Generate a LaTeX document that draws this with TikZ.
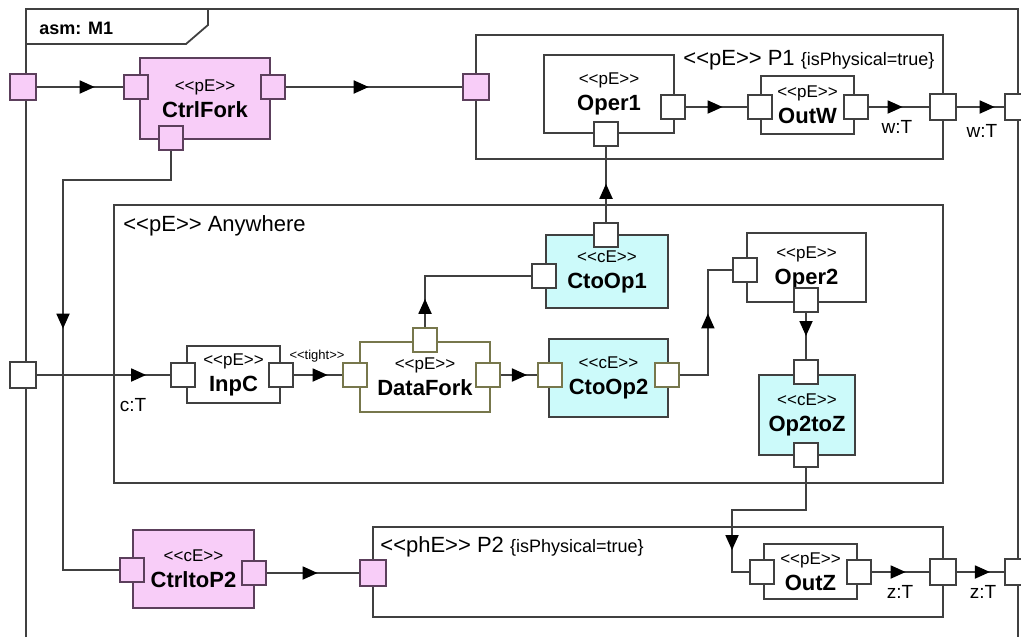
\documentclass[tikz,border=0pt]{standalone}
\usepackage{fontspec}
\setmainfont{Liberation Sans}
\usetikzlibrary{arrows.meta,decorations.markings}

\definecolor{linea}{HTML}{404040}
\definecolor{rosa}{HTML}{F8CDF8}
\definecolor{bordrosa}{HTML}{5C3F5C}
\definecolor{cian}{HTML}{CCFAFA}
\definecolor{oliva}{HTML}{77774C}

% estereotipo << >> sin ligaduras
\newcommand{\este}[1]{<\kern0pt<#1>\kern0pt>}
\newcommand{\bloque}[2]{\este{#1}\\{\fontsize{11}{13}\selectfont\bfseries #2}}

\tikzset{
  caja/.style={draw=linea, line width=0.9pt, fill=white, align=center,
    font=\fontsize{8.5}{13}\selectfont, inner sep=0pt},
  puerto/.style={draw=linea, line width=0.9pt, fill=white, minimum size=12pt, inner sep=0pt},
  puertor/.style={puerto, fill=rosa, draw=bordrosa},
  puertoo/.style={puerto, draw=oliva},
  etiq/.style={font=\fontsize{9.5}{11}\selectfont, inner sep=0pt},
  flujo/.style={draw=linea, line width=0.9pt,
    decoration={markings, mark=at position #1 with {\arrow[black]{Triangle[length=7.5pt,width=6.5pt]}}},
    postaction={decorate}},
  flujo/.default=0.5
}

\begin{document}
\begin{tikzpicture}[x=0.5pt, y=-0.5pt]
  \useasboundingbox (0,0) rectangle (1021,637);

  % Marco asm: M1
  \draw[linea, line width=0.9pt] (26,637) -- (26,9) -- (1018,9) -- (1018,637);
  \draw[linea, line width=0.9pt] (26,44) -- (186,44) -- (208,25) -- (208,9);
  \node[anchor=west, inner sep=0pt, font=\fontsize{9}{11}\selectfont\bfseries] (titulo) at (39,28) {asm: M1};

  % Contenedores
  \node[caja, minimum width=233.5pt, minimum height=62pt] (p1) at (709.5,97) {};
  \node[anchor=west, inner sep=0pt, font=\fontsize{11}{13}\selectfont] (p1lab) at (683,60)
    {\este{pE} P1 {\fontsize{9}{11}\selectfont\{isPhysical=true\}}};
  \node[caja, minimum width=414.5pt, minimum height=139pt] (anywhere) at (528.5,344) {};
  \node[anchor=west, inner sep=0pt, font=\fontsize{11}{13}\selectfont] (anylab) at (123,226)
    {\este{pE} Anywhere};
  \node[caja, minimum width=285pt, minimum height=45pt] (p2) at (658,572) {};
  \node[anchor=west, inner sep=0pt, font=\fontsize{11}{13}\selectfont] (p2lab) at (380,547)
    {\este{phE} P2 {\fontsize{9}{11}\selectfont\{isPhysical=true\}}};

  % Bloques
  \node[caja, fill=rosa, draw=bordrosa, minimum width=65pt, minimum height=40.5pt] (ctrlfork) at (205,98.5) {\bloque{pE}{CtrlFork}};
  \node[caja, minimum width=65pt, minimum height=39pt] (oper1) at (609,94) {\bloque{pE}{Oper1}};
  \node[caja, minimum width=46.5pt, minimum height=29pt] (outw) at (807.5,105) {\bloque{pE}{OutW}};
  \node[caja, minimum width=46.5pt, minimum height=28.5pt] (inpc) at (233.5,374.5) {\bloque{pE}{InpC}};
  \node[caja, draw=oliva, minimum width=65pt, minimum height=35pt] (datafork) at (425,377) {\bloque{pE}{DataFork}};
  \node[caja, fill=cian, minimum width=61pt, minimum height=36.5pt] (ctoop1) at (607,271.5) {\bloque{cE}{CtoOp1}};
  \node[caja, fill=cian, minimum width=59.5pt, minimum height=39pt] (ctoop2) at (608.5,378) {\bloque{cE}{CtoOp2}};
  \node[caja, minimum width=59.5pt, minimum height=34.5pt] (oper2) at (806.5,267.5) {\bloque{pE}{Oper2}};
  \node[caja, fill=cian, minimum width=48pt, minimum height=40pt] (op2toz) at (807,415) {\bloque{cE}{Op2toZ}};
  \node[caja, fill=rosa, draw=bordrosa, minimum width=60.5pt, minimum height=39pt] (ctrltop2) at (193.5,569) {\bloque{cE}{CtrltoP2}};
  \node[caja, minimum width=46.5pt, minimum height=27.5pt] (outz) at (810.5,571.5) {\bloque{pE}{OutZ}};

  % Puertos
  \node[puertor, minimum size=13pt] (extL1) at (23,87) {};
  \node[puertor] (cfL) at (136,87) {};
  \node[puertor] (cfR) at (273,87) {};
  \node[puertor] (cfB) at (171,138) {};
  \node[puertor, minimum size=13pt] (p1L) at (476,87) {};
  \node[puerto] (o1R) at (673,107) {};
  \node[puerto] (o1B) at (606,134) {};
  \node[puerto] (owL) at (760,107) {};
  \node[puerto] (owR) at (856,107) {};
  \node[puerto, minimum size=13pt] (p1R) at (943,107) {};
  \node[puerto, minimum size=13pt] (extR1) at (1018,107) {};
  \node[puerto, minimum size=13pt] (extL2) at (23,375) {};
  \node[puerto] (ipL) at (183,375) {};
  \node[puerto] (ipR) at (281,375) {};
  \node[puertoo] (dfL) at (355,375) {};
  \node[puertoo] (dfT) at (425,340) {};
  \node[puertoo] (dfR) at (488,375) {};
  \node[puerto] (c1T) at (606,235) {};
  \node[puerto] (c1L) at (544,276) {};
  \node[puertoo] (c2L) at (550,375) {};
  \node[puertoo] (c2R) at (667,375) {};
  \node[puerto] (o2L) at (745,270) {};
  \node[puerto] (o2B) at (806,300) {};
  \node[puerto] (c3T) at (806,372) {};
  \node[puerto] (c3B) at (806,455) {};
  \node[puertor] (ciL) at (132,570) {};
  \node[puertor] (ciR) at (254,573) {};
  \node[puertor, minimum size=13pt] (p2L) at (373,573) {};
  \node[puerto] (ozL) at (762,572) {};
  \node[puerto] (ozR) at (859,572) {};
  \node[puerto, minimum size=13pt] (p2R) at (943,572) {};
  \node[puerto, minimum size=13pt] (extR2) at (1018,572) {};

  % Codos
  \coordinate (codoC) at (63,180);
  \coordinate (codoZ) at (732,510);

  % Flujos
  \draw[flujo=0.67] (extL1.east) -- (cfL.west);
  \draw[flujo=0.47] (cfR.east) -- (p1L.west);
  \draw[flujo=0.6] (o1R.east) -- (owL.west);
  \draw[flujo=0.56] (owR.east) -- (p1R.west);
  \draw[flujo=0.8] (p1R.east) -- (extR1.west);
  \draw[flujo=0.51] (c1T.north) -- (o1B.south);
  \draw[flujo=0.18] (dfT.north) |- (c1L.west);
  \draw[flujo=0.82] (extL2.east) -- (ipL.west);
  \draw[flujo=0.7] (ipR.east) -- (dfL.west);
  \draw[flujo=0.72] (dfR.east) -- (c2L.west);
  \draw[flujo=0.57] (c2R.east) -- ++(28,0) |- (o2L.west);
  \draw[flujo=0.5] (o2B.south) -- (c3T.north);
  \draw[flujo=0.8] (c3B.south) |- (codoZ) |- (ozL.west);
  \draw[flujo=0.59] (ozR.east) -- (p2R.west);
  \draw[flujo=0.7] (p2R.east) -- (extR2.west);
  \draw[flujo=0.49] (cfB.south) |- (codoC) |- (ciL.west);
  \draw[flujo=0.55] (ciR.east) -- (p2L.west);

  % Etiquetas
  \node[etiq] (lcT) at (133,405) {c:T};
  \node[font=\fontsize{6.5}{7}\selectfont, inner sep=0pt] (ltight) at (317,356) {\este{tight}};
  \node[etiq] (lw1) at (897,127) {w:T};
  \node[etiq] (lw2) at (982,131) {w:T};
  \node[etiq] (lz1) at (900,592) {z:T};
  \node[etiq] (lz2) at (983,592) {z:T};
\end{tikzpicture}
\end{document}
